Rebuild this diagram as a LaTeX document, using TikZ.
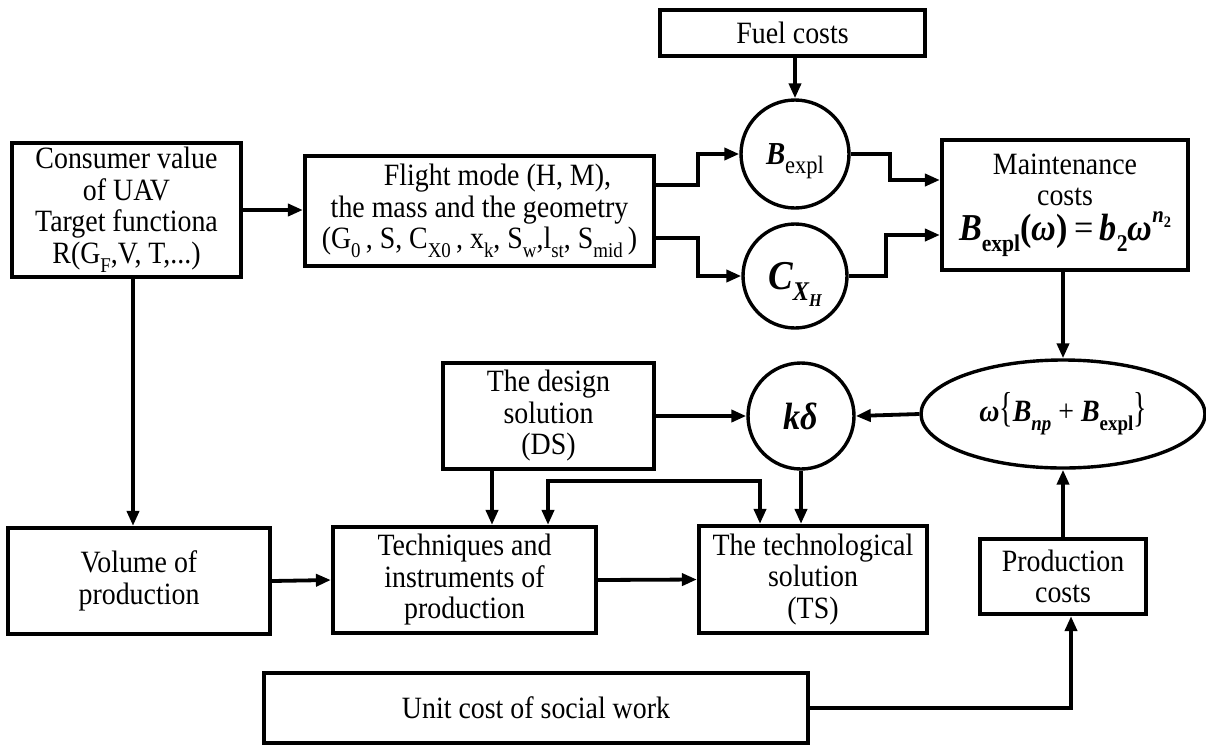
\documentclass[tikz,border=0pt]{standalone}
\usepackage{graphicx}
\usepackage{fontspec}
\setmainfont{Liberation Serif}[FakeStretch=0.9]
\usetikzlibrary{arrows.meta,shapes.geometric,calc}

% lowered subscript in a given size
\newcommand\lowsub[2][21]{\raisebox{-0.3em}{\fontsize{#1}{#1}\selectfont #2}}
% bold italic symbol
\newcommand\bi[1]{{\bfseries\itshape #1}}

\begin{document}
\begin{tikzpicture}[x=1pt,y=-1pt,
  every node/.style={font=\fontsize{31}{31.5}\selectfont},
  box/.style={draw, line width=4.2pt, align=center, inner sep=0pt},
  ring/.style={draw, circle, line width=3.4pt, inner sep=0pt},
  oval/.style={draw, ellipse, line width=3.4pt, inner sep=0pt},
  link/.style={line width=3.8pt, -{Triangle[length=15pt,width=12pt]}},
  twoway/.style={line width=3.8pt, {Triangle[length=15pt,width=12pt]}-{Triangle[length=15pt,width=12pt]}},
  plain/.style={line width=3.8pt}]
\useasboundingbox (0,0) rectangle (1206,745);

% ---- boxes ----
\node[box, minimum width=229pt, minimum height=134pt] (consumer) at (126.5,210)
  {Consumer value\\ of UAV\hspace*{22pt}\\ Target functiona\\ R(G\lowsub{F},V, T,...)};
\node[box, minimum width=349pt, minimum height=110pt] (flight) at (479.5,211)
  {\hspace*{36pt}Flight mode (H, M),\\ the mass and the geometry\\
   (G\lowsub{0}\,, S, C\lowsub{X0}\,, x\lowsub{k}, S\lowsub{w},l\lowsub{st}, S\lowsub{mid}\,)};
\node[box, minimum width=265pt, minimum height=46pt] (fuel) at (792.5,33) {Fuel costs};
\node[box, minimum width=246pt, minimum height=130pt] (maint) at (1065,205)
  {Maintenance\\ costs\\[3pt]
   {\fontsize{38}{38}\selectfont \bi{B}\lowsub[24]{\bfseries expl}\textbf{(}\bi{ω}\textbf{)}\,=\,\bi{b}\lowsub[24]{\bfseries 2}\bi{ω}\raisebox{0.45em}{\fontsize{23}{23}\selectfont\bi{n}\raisebox{-0.2em}{\fontsize{16}{16}\selectfont\bfseries 2}}}};
\node[box, minimum width=211pt, minimum height=106pt] (ds) at (548.5,416)
  {The design\\ solution\\ (DS)};
\node[box, minimum width=262pt, minimum height=106pt] (volume) at (139,581)
  {Volume of\\ production};
\node[box, minimum width=263pt, minimum height=106pt] (tech) at (464.5,580)
  {Techniques and\\ instruments of\\ production};
\node[box, minimum width=228pt, minimum height=107pt] (ts) at (813,579.5)
  {The technological\\ solution\\ (TS)};
\node[box, minimum width=166pt, minimum height=75pt] (prod) at (1063,576.5)
  {Production\\ costs};
\node[box, minimum width=544pt, minimum height=70pt] (unit) at (536,708)
  {Unit cost of social work};

% ---- circles and ellipse ----
\node[ring, minimum size=108pt] (bexp) at (795,154)
  {{\fontsize{32}{32}\selectfont\bi{B}}\smash{\lowsub[25]{expl}}};
\node[ring, minimum size=104pt] (cxh) at (795,276)
  {{\fontsize{41}{41}\selectfont\bi{C}}\smash{\raisebox{-0.35em}{\fontsize{27}{27}\selectfont\bi{X}\raisebox{-0.25em}{\fontsize{18}{18}\selectfont\bi{H}}}}};
\node[ring, minimum size=106pt] (kd) at (801,416)
  {{\fontsize{38}{38}\selectfont\bi{kδ}}};
\node[oval, minimum width=284pt, minimum height=108pt] (omega) at (1063,414)
  {\bi{ω}\scalebox{1}[1.35]{\{}\bi{B}\lowsub[21]{\bfseries\itshape np} + \bi{B}\lowsub[21]{\bfseries expl}\scalebox{1}[1.35]{\}}};

% ---- connectors ----
\draw[link] (consumer.east) -- (consumer.east -| flight.west);
\draw[link] ([xshift=6.5pt]consumer.south) -- ([xshift=6.5pt]consumer.south |- volume.north);
\draw[link] ([yshift=26pt]flight.east) -- ++(42,0) |- (bexp.west);
\draw[link] ([yshift=-27pt]flight.east) -- ++(42,0) |- (cxh.west);
\draw[link] (bexp.north |- fuel.south) -- (bexp.north);
\draw[link] (bexp.east) -- ++(39,0) |- ([yshift=25pt]maint.west);
\draw[link] (cxh.east) -- ++(37,0) |- ([yshift=-30pt]maint.west);
\draw[link] (omega.north |- maint.south) -- (omega.north);
\draw[link] (omega.west) -- (kd.east);
\draw[link] (ds.east) -- (kd.west);
\draw[link] (prod.north) -- (omega.south);
\draw[link] (unit.east) -| ([xshift=8pt]prod.south);
\draw[link] (kd.south) -- (kd.south |- ts.north);
\draw[link] ([xshift=-56.5pt]ds.south) -- ([xshift=-56.5pt]ds.south |- tech.north);
\draw[twoway] ([xshift=83.5pt]tech.north) -- ++(0,-44) -| ([xshift=-53pt]ts.north);
\draw[link] (volume.east) -- (tech.west);
\draw[link] (tech.east) -- (ts.west);
\end{tikzpicture}
\end{document}
